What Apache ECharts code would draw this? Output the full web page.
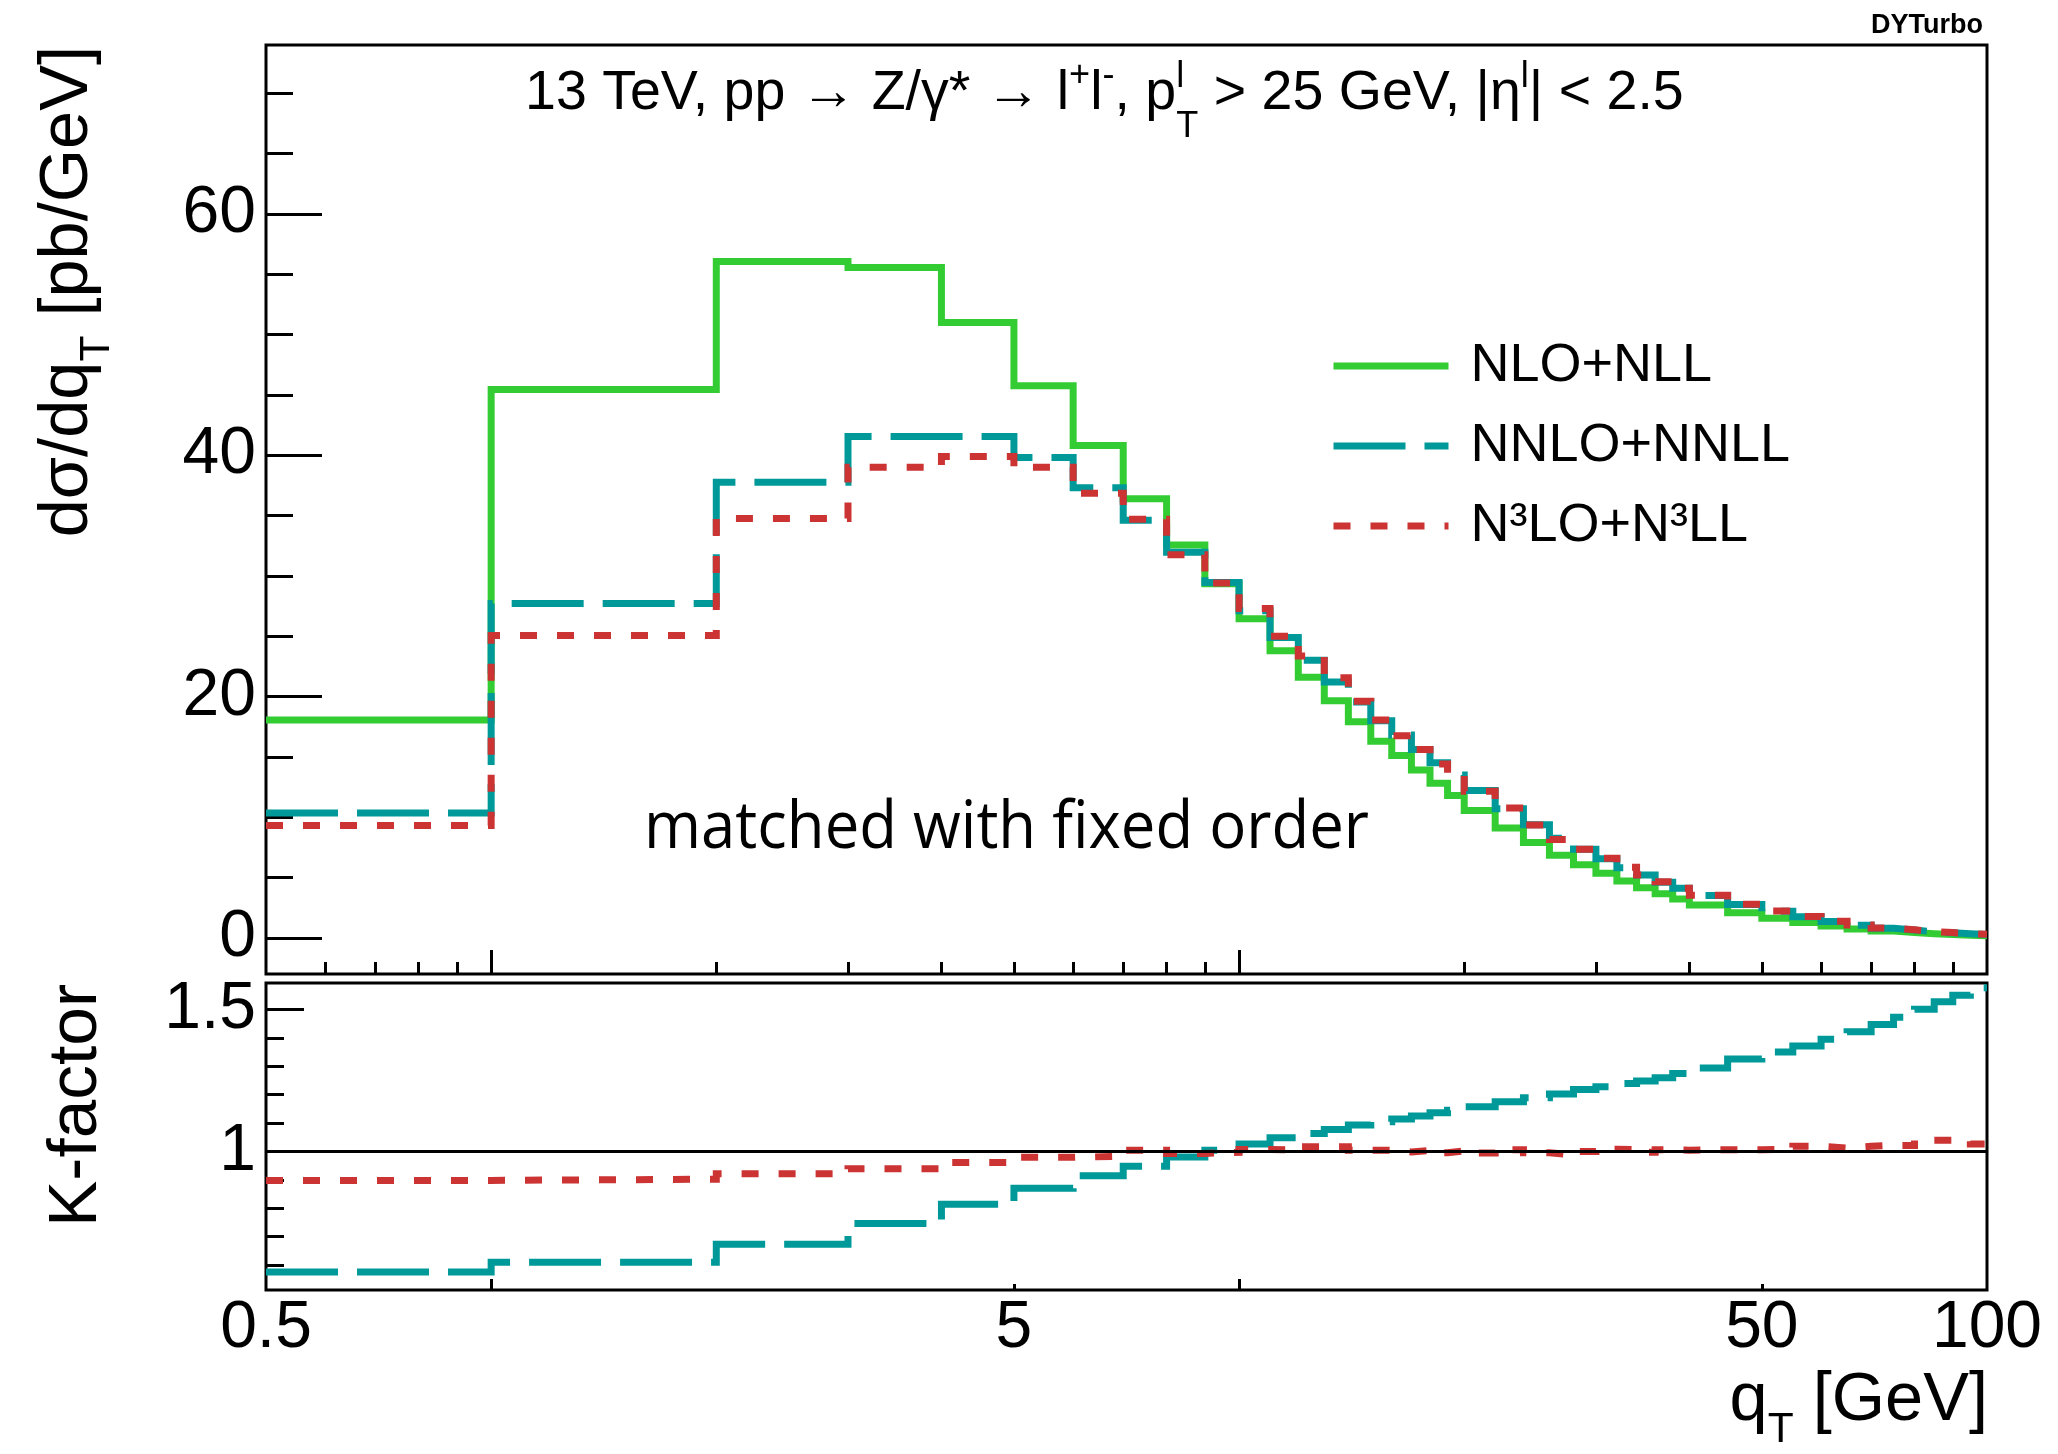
<!DOCTYPE html>
<html>
<head>
<meta charset="utf-8">
<script src="https://cdn.jsdelivr.net/npm/echarts@6/dist/echarts.min.js"></script>
<style>
  html, body { margin: 0; padding: 0; background: #ffffff; }
  #chart { width: 2058px; height: 1454px; }
</style>
</head>
<body>
<div id="chart"></div>
<script>
// q_T bin edges [GeV]
const binEdges = [0.5, 1, 2, 3, 4, 5, 6, 7, 8, 9, 10,
  11, 12, 13, 14, 15, 16, 17, 18, 19, 20,
  22, 24, 26, 28, 30, 32, 34, 36, 38, 40,
  45, 50, 55, 60, 65, 70, 75, 80, 85, 90, 95, 100];

// dsigma/dq_T [pb/GeV], one value per bin
const nloNll = [18.05, 45.45, 56.05, 55.55, 51.0, 45.75, 40.8, 36.4, 32.55, 29.35,
  26.45, 23.8, 21.6, 19.65, 17.9, 16.3, 15.1, 13.9, 12.8, 11.8,
  10.55, 9.1, 7.9, 6.85, 6.05, 5.35, 4.7, 4.15, 3.65, 3.22,
  2.72, 2.08, 1.62, 1.26, 0.97, 0.74, 0.56, 0.44, 0.34, 0.27, 0.22, 0.18];

const nnloNnll = [10.35, 27.7, 37.75, 41.55, 41.55, 39.8, 37.3, 34.6, 31.95, 29.45,
  27.1, 24.9, 23.0, 21.2, 19.55, 18.0, 16.8, 15.6, 14.5, 13.5,
  12.2, 10.7, 9.38, 8.25, 7.35, 6.55, 5.8, 5.2, 4.6, 4.1,
  3.5, 2.76, 2.2, 1.74, 1.36, 1.04, 0.8, 0.64, 0.5, 0.41, 0.34, 0.28];

const n3loN3ll = [9.3, 25.05, 34.75, 39.0, 39.9, 39.0, 36.85, 34.7, 31.75, 29.4,
  27.3, 25.0, 23.35, 21.55, 19.6, 18.05, 16.75, 15.6, 14.4, 13.5,
  12.15, 10.75, 9.35, 8.15, 7.35, 6.6, 5.85, 5.2, 4.65, 4.1,
  3.52, 2.78, 2.22, 1.77, 1.38, 1.06, 0.82, 0.66, 0.52, 0.43, 0.35, 0.29];

// K-factors per bin
const kNnloOverNlo = [0.575, 0.61, 0.673, 0.746, 0.814, 0.870, 0.914, 0.948, 0.98, 1.004,
  1.026, 1.048, 1.063, 1.077, 1.093, 1.104, 1.114, 1.125, 1.136, 1.145,
  1.157, 1.175, 1.189, 1.202, 1.218, 1.228, 1.239, 1.248, 1.259, 1.274,
  1.294, 1.325, 1.350, 1.371, 1.395, 1.421, 1.447, 1.472, 1.501, 1.527, 1.55, 1.576];

const kN3loOverNnlo = [0.898, 0.902, 0.921, 0.939, 0.961, 0.979, 0.983, 1.004, 0.993, 0.997,
  1.007, 1.005, 1.016, 1.016, 1.004, 1.004, 0.998, 1.003, 0.995, 1.002,
  0.994, 1.006, 0.995, 0.988, 1.0, 1.008, 1.006, 0.997, 1.006, 1.004,
  1.006, 1.006, 1.008, 1.018, 1.012, 1.018, 1.021, 1.021, 1.039, 1.039, 1.039, 1.026];

const seriesNames = ['NLO+NLL', 'NNLO+NNLL', 'N³LO+N³LL'];

// axis ticks and labels
const yMainMajor = [0, 20, 40, 60];
const yMainMinor = [5, 10, 15, 25, 30, 35, 45, 50, 55, 65, 70];
const yRatioMajor = [1, 1.5];
const yRatioMinor = [0.6, 0.7, 0.8, 0.9, 1.1, 1.2, 1.3, 1.4];
const xMainMajor = [1, 10];
const xMainMinor = [0.6, 0.7, 0.8, 0.9, 2, 3, 4, 5, 6, 7, 8, 9, 20, 30, 40, 50, 60, 70, 80, 90];
const xRatioMajor = [1, 10];
const xRatioMinor = [5, 50];
const xLabelValues = [0.50001, 5, 50, 99.999];

const GREEN = '#33cc33';
const TEAL = '#009999';
const RED = '#cc3333';
const FONT = '"Liberation Sans", Arial, Helvetica, sans-serif';
const HUMANIST = '"Open Sans", "Noto Sans", sans-serif';

// ---- text measuring helpers ----
const mctx = document.createElement('canvas').getContext('2d');
function textWidth(str, size, family, weight) {
  mctx.font = (weight || 'normal') + ' ' + size + 'px ' + family;
  mctx.textBaseline = 'alphabetic';
  return mctx.measureText(str).width;
}
// distance (in em) between the canvas "middle" line and the alphabetic baseline
function midToBaseline(family, weight) {
  mctx.font = (weight || 'normal') + ' 100px ' + family;
  mctx.textBaseline = 'alphabetic';
  const a = mctx.measureText('H').actualBoundingBoxAscent;
  mctx.textBaseline = 'middle';
  const b = mctx.measureText('H').actualBoundingBoxAscent;
  mctx.textBaseline = 'alphabetic';
  return (a - b) / 100;
}
const MID = midToBaseline(FONT);

// lays out text pieces on a common baseline at local (0,0);
// pieces may be scaled and shifted (sub/superscripts), "stack" keeps the cursor
function mathPieces(pieces, size, align) {
  let cursor = 0;
  const placed = [];
  pieces.forEach(p => {
    const s = size * (p.scale || 1);
    placed.push({ x: cursor, y: (p.shift || 0) * size - MID * s, s: s, t: p.t });
    if (!p.stack) cursor += textWidth(p.t, s, FONT);
  });
  const off = align === 'right' ? -cursor : 0;
  return placed.map(q => ({
    type: 'text', x: q.x + off, y: q.y, silent: true,
    style: { text: q.t, fontSize: q.s, fontFamily: FONT, fill: '#000',
             align: 'left', verticalAlign: 'middle' }
  }));
}
function piecesWidth(pieces, size) {
  let w = 0;
  pieces.forEach(p => { if (!p.stack) w += textWidth(p.t, size * (p.scale || 1), FONT); });
  return w;
}
function fitSize(pieces, targetWidth) {
  return targetWidth / piecesWidth(pieces, 1);
}

// ---- titles and annotations ----
const SUB = 0.62;
const yTitlePieces = [{ t: 'dσ/dq' }, { t: 'T', scale: SUB, shift: 0.32 }, { t: ' [pb/GeV]' }];
const kTitlePieces = [{ t: 'K-factor' }];
const xTitlePieces = [{ t: 'q' }, { t: 'T', scale: SUB, shift: 0.32 }, { t: ' [GeV]' }];
const processPieces = [
  { t: '13 TeV, pp → Z/γ* → l' }, { t: '+', scale: 0.65, shift: -0.42 },
  { t: 'l' }, { t: '-', scale: 0.65, shift: -0.42 },
  { t: ', p' }, { t: 'l', scale: 0.65, shift: -0.40, stack: true },
  { t: 'T', scale: 0.65, shift: 0.50 },
  { t: ' > 25 GeV, |η' }, { t: 'l', scale: 0.65, shift: -0.40 },
  { t: '| < 2.5' }
];

const yTitleSize = Math.min(70, fitSize(yTitlePieces, 491));
const kTitleSize = Math.min(72, fitSize(kTitlePieces, 243));
const xTitleSize = Math.min(70, fitSize(xTitlePieces, 258));
const processSize = Math.min(58, fitSize(processPieces, 1158));

const matchedText = 'matched with fixed order';
const matchedSize = 65;
const matchedScaleX = 725 / textWidth(matchedText, matchedSize, HUMANIST);
const MID_H = midToBaseline(HUMANIST);

function histogramPoints(edges, values) {
  const pts = values.map((v, i) => [edges[i], v]);
  pts.push([edges[edges.length - 1], values[values.length - 1]]);
  return pts;
}

const tickLine = { color: '#000', width: 3 };
function logXAxis(gridIndex, ticks, len, labels) {
  return {
    type: 'log', logBase: 10, gridIndex: gridIndex, position: 'bottom', min: 0.5, max: 100,
    axisLine: { show: false, onZero: false },
    splitLine: { show: false }, minorTick: { show: false }, minorSplitLine: { show: false },
    axisTick: { show: true, inside: true, length: len, customValues: ticks, lineStyle: tickLine },
    axisLabel: labels ? {
      show: true, customValues: labels, margin: 6,
      fontSize: 66, fontFamily: FONT, color: '#000',
      formatter: v => String(Number(Number(v).toPrecision(2)))
    } : { show: false }
  };
}
function valueYAxis(gridIndex, min, max, ticks, len, labels) {
  return {
    type: 'value', gridIndex: gridIndex, position: 'left', min: min, max: max,
    axisLine: { show: false, onZero: false },
    splitLine: { show: false }, minorTick: { show: false },
    axisTick: { show: true, inside: true, length: len, customValues: ticks, lineStyle: tickLine },
    axisLabel: labels ? {
      show: true, customValues: labels, margin: 10,
      fontSize: 66, fontFamily: FONT, color: '#000'
    } : { show: false }
  };
}

const lineBase = {
  type: 'line', step: 'end', symbol: 'none', showSymbol: false,
  animation: false, silent: true, clip: true
};
function styleOf(color, dash) {
  return { color: color, width: 7, type: dash, cap: 'butt', join: 'miter' };
}

const chart = echarts.init(document.getElementById('chart'), null,
  { renderer: 'canvas', width: 2058, height: 1454 });

chart.setOption({
  backgroundColor: '#ffffff',
  animation: false,
  grid: [
    { left: 266, top: 45, width: 1721, height: 929, show: true, borderColor: '#000',
      borderWidth: 3, backgroundColor: 'transparent', containLabel: false, outerBoundsMode: 'none' },
    { left: 266, top: 983, width: 1721, height: 307, show: true, borderColor: '#000',
      borderWidth: 3, backgroundColor: 'transparent', containLabel: false, outerBoundsMode: 'none' }
  ],
  xAxis: [
    logXAxis(0, xMainMajor, 24, null),
    logXAxis(0, xMainMinor, 12, null),
    logXAxis(1, xRatioMajor, 11, xLabelValues),
    logXAxis(1, xRatioMinor, 6, null)
  ],
  yAxis: [
    valueYAxis(0, -3, 74, yMainMajor, 56, yMainMajor),
    valueYAxis(0, -3, 74, yMainMinor, 27, null),
    valueYAxis(1, 0.512, 1.593, yRatioMajor, 38, yRatioMajor),
    valueYAxis(1, 0.512, 1.593, yRatioMinor, 18, null)
  ],
  legend: {
    data: seriesNames,
    orient: 'vertical', left: 1330, top: 339, padding: 0,
    itemWidth: 115, itemHeight: 14, itemGap: 26,
    selectedMode: false,
    textStyle: { fontSize: 54, lineHeight: 54, fontFamily: FONT, color: '#000', padding: [0, 0, 0, 17] },
    itemStyle: { opacity: 0, borderWidth: 0 },
    lineStyle: { width: 'inherit' }
  },
  series: [
    Object.assign({}, lineBase, {
      name: seriesNames[0], xAxisIndex: 0, yAxisIndex: 0,
      data: histogramPoints(binEdges, nloNll),
      lineStyle: styleOf(GREEN, 'solid'), itemStyle: { color: GREEN }
    }),
    Object.assign({}, lineBase, {
      name: seriesNames[1], xAxisIndex: 0, yAxisIndex: 0,
      data: histogramPoints(binEdges, nnloNnll),
      lineStyle: styleOf(TEAL, [72, 19]), itemStyle: { color: TEAL }
    }),
    Object.assign({}, lineBase, {
      name: seriesNames[2], xAxisIndex: 0, yAxisIndex: 0,
      data: histogramPoints(binEdges, n3loN3ll),
      lineStyle: styleOf(RED, [17, 20]), itemStyle: { color: RED }
    }),
    Object.assign({}, lineBase, {
      name: 'NNLO+NNLL / NLO+NLL', xAxisIndex: 2, yAxisIndex: 2,
      data: histogramPoints(binEdges, kNnloOverNlo),
      lineStyle: styleOf(TEAL, [72, 19]), itemStyle: { color: TEAL }
    }),
    Object.assign({}, lineBase, {
      name: 'N³LO+N³LL / NNLO+NNLL', xAxisIndex: 2, yAxisIndex: 2,
      data: histogramPoints(binEdges, kN3loOverNnlo),
      lineStyle: styleOf(RED, [17, 20]), itemStyle: { color: RED },
      markLine: {
        silent: true, symbol: 'none', animation: false, z: 10,
        label: { show: false },
        lineStyle: { color: '#000', width: 3, type: 'solid' },
        data: [{ yAxis: 1 }]
      }
    })
  ],
  graphic: [
    // process description
    { type: 'group', x: 525, y: 109, children: mathPieces(processPieces, processSize, 'left') },
    // program tag
    { type: 'text', x: 1983, y: 33 - midToBaseline(FONT, 'bold') * 27, silent: true,
      style: { text: 'DYTurbo', fontSize: 27, fontWeight: 'bold', fontFamily: FONT, fill: '#000',
               align: 'right', verticalAlign: 'middle' } },
    // matching note
    { type: 'text', x: 644, y: 848 - MID_H * matchedSize, scaleX: matchedScaleX, silent: true,
      style: { text: matchedText, fontSize: matchedSize, fontFamily: HUMANIST, fill: '#000',
               align: 'left', verticalAlign: 'middle' } },
    // y title, upper pad
    { type: 'group', x: 87, y: 46, rotation: Math.PI / 2,
      children: mathPieces(yTitlePieces, yTitleSize, 'right') },
    // y title, ratio pad
    { type: 'group', x: 96, y: 984, rotation: Math.PI / 2,
      children: mathPieces(kTitlePieces, kTitleSize, 'right') },
    // x title
    { type: 'group', x: 1988, y: 1420, children: mathPieces(xTitlePieces, xTitleSize, 'right') }
  ]
});
</script>
</body>
</html>
